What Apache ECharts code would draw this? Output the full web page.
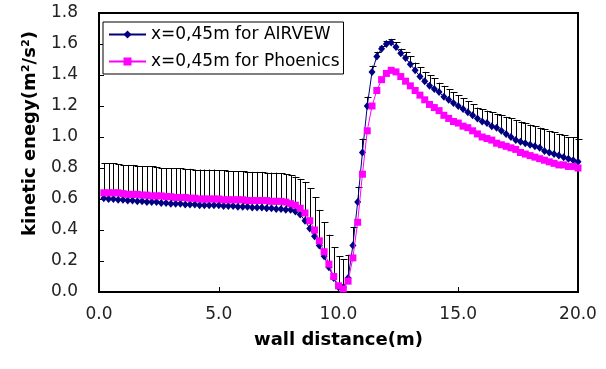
<!DOCTYPE html>
<html>
<head>
<meta charset="utf-8">
<script src="https://cdn.jsdelivr.net/npm/echarts@6/dist/echarts.min.js"></script>
<style>html,body{margin:0;padding:0;background:#fff}#c{width:606px;height:369px}</style>
</head>
<body>
<div id="c"></div>
<script>
var xs = [0.2,0.4,0.6,0.8,1.0,1.2,1.4,1.6,1.8,2.0,
  2.2,2.4,2.6,2.8,3.0,3.2,3.4,3.6,3.8,4.0,
  4.2,4.4,4.6,4.8,5.0,5.2,5.4,5.6,5.8,6.0,
  6.2,6.4,6.6,6.8,7.0,7.2,7.4,7.6,7.8,8.0,
  8.2,8.4,8.6,8.8,9.0,9.2,9.4,9.6,9.8,10.0,
  10.2,10.4,10.6,10.8,11.0,11.2,11.4,11.6,11.8,12.0,
  12.2,12.4,12.6,12.8,13.0,13.2,13.4,13.6,13.8,14.0,
  14.2,14.4,14.6,14.8,15.0,15.2,15.4,15.6,15.8,16.0,
  16.2,16.4,16.6,16.8,17.0,17.2,17.4,17.6,17.8,18.0,
  18.2,18.4,18.6,18.8,19.0,19.2,19.4,19.6,19.8,20.0];
var airvew = [0.605,0.60,0.60,0.595,0.595,0.59,0.59,0.585,0.585,0.58,
  0.58,0.58,0.575,0.575,0.57,0.57,0.57,0.565,0.565,0.565,
  0.56,0.56,0.56,0.56,0.56,0.555,0.555,0.555,0.55,0.55,
  0.55,0.545,0.545,0.545,0.54,0.54,0.535,0.535,0.53,0.53,
  0.52,0.50,0.46,0.41,0.36,0.30,0.23,0.16,0.09,0.03,
  0.03,0.09,0.30,0.58,0.90,1.20,1.42,1.52,1.57,1.60,
  1.61,1.58,1.54,1.51,1.47,1.43,1.39,1.36,1.33,1.31,
  1.29,1.26,1.24,1.22,1.20,1.18,1.16,1.14,1.12,1.10,
  1.09,1.07,1.06,1.04,1.02,1.00,0.98,0.97,0.96,0.95,
  0.94,0.93,0.91,0.90,0.89,0.88,0.87,0.86,0.85,0.84];
var airvewUpper = [0.83,0.83,0.83,0.825,0.82,0.82,0.82,0.815,0.81,0.81,
  0.81,0.805,0.80,0.80,0.80,0.80,0.80,0.795,0.795,0.79,
  0.79,0.79,0.79,0.79,0.785,0.785,0.78,0.78,0.78,0.78,
  0.775,0.775,0.775,0.775,0.77,0.77,0.77,0.765,0.76,0.755,
  0.745,0.73,0.71,0.67,0.61,0.53,0.45,0.37,0.29,0.23,
  0.21,0.24,0.42,0.68,0.99,1.26,1.46,1.55,1.59,1.62,
  1.63,1.61,1.57,1.55,1.52,1.48,1.45,1.42,1.40,1.38,
  1.35,1.33,1.31,1.29,1.27,1.25,1.23,1.21,1.19,1.18,
  1.17,1.16,1.15,1.14,1.13,1.12,1.11,1.10,1.09,1.08,
  1.07,1.06,1.05,1.04,1.03,1.02,1.01,1.00,1.00,0.99];
var phoenics = [0.64,0.64,0.64,0.64,0.635,0.63,0.63,0.63,0.625,0.625,
  0.62,0.62,0.62,0.615,0.615,0.61,0.61,0.61,0.605,0.605,
  0.60,0.60,0.60,0.60,0.60,0.595,0.595,0.595,0.595,0.595,
  0.59,0.59,0.59,0.59,0.59,0.585,0.585,0.585,0.58,0.57,
  0.56,0.54,0.51,0.46,0.40,0.33,0.26,0.18,0.10,0.04,
  0.02,0.07,0.22,0.45,0.76,1.04,1.20,1.30,1.37,1.41,
  1.43,1.42,1.39,1.36,1.33,1.30,1.27,1.24,1.21,1.19,
  1.17,1.14,1.12,1.10,1.09,1.07,1.06,1.04,1.02,1.00,
  0.99,0.98,0.96,0.95,0.94,0.93,0.92,0.90,0.89,0.88,
  0.87,0.86,0.85,0.84,0.83,0.82,0.82,0.81,0.81,0.80];
var seriesNames = ['x=0,45m for AIRVEW', 'x=0,45m for Phoenics'];
var xTitle = 'wall distance(m)';
var yTitle = 'kinetic enegy(m\u00B2/s\u00B2)';

var chart = echarts.init(document.getElementById('c'), null, {renderer: 'canvas'});
var pts = function (ys) { return xs.map(function (x, i) { return [x, ys[i]]; }); };
var errData = xs.map(function (x, i) { return [x, airvew[i], airvewUpper[i]]; });
var font = 'DejaVu Sans';
chart.setOption({
  animation: false,
  backgroundColor: '#fff',
  grid: {left: 99, right: 28, top: 13, bottom: 77, show: true, borderColor: '#000', borderWidth: 2},
  legend: {
    orient: 'vertical', left: 103, top: 22, padding: [4, 4, 4, 5],
    backgroundColor: '#fff', borderColor: '#000', borderWidth: 1,
    itemWidth: 37, itemHeight: 10, itemGap: 10,
    textStyle: {fontFamily: font, fontSize: 17, color: '#000'},
    data: seriesNames
  },
  xAxis: {
    type: 'value', min: 0, max: 20, interval: 5,
    axisLine: {lineStyle: {color: '#000', width: 2}},
    axisTick: {inside: true, length: 5, lineStyle: {color: '#000', width: 1}},
    splitLine: {show: false},
    axisLabel: {margin: 14, fontFamily: font, fontSize: 17, color: '#222', formatter: function (v) { return v.toFixed(1); }},
    name: xTitle, nameLocation: 'middle', nameGap: 39,
    nameTextStyle: {fontFamily: font, fontSize: 18, fontWeight: 'bold', color: '#000'}
  },
  yAxis: {
    type: 'value', min: 0, max: 1.8, interval: 0.2,
    axisLine: {lineStyle: {color: '#000', width: 2}},
    axisTick: {inside: true, length: 5, lineStyle: {color: '#000', width: 1}},
    splitLine: {show: false},
    axisLabel: {margin: 21, fontFamily: font, fontSize: 17, color: '#222', formatter: function (v) { return v.toFixed(1); }},
    name: yTitle, nameLocation: 'middle', nameGap: 60,
    nameTextStyle: {fontFamily: font, fontSize: 18, fontWeight: 'bold', color: '#000', padding: [0, 0, 0, 38]}
  },
  series: [
    {
      type: 'custom', name: 'err', silent: true, z: 1,
      data: errData,
      renderItem: function (params, api) {
        var p0 = api.coord([api.value(0), api.value(1)]);
        var p1 = api.coord([api.value(0), api.value(2)]);
        var x = Math.round(p0[0]) + 0.5;
        return {type: 'group', children: [
          {type: 'line', shape: {x1: x, y1: p0[1], x2: x, y2: p1[1]}, style: {stroke: '#000', lineWidth: 1}},
          {type: 'line', shape: {x1: x - 3, y1: Math.round(p1[1]) + 0.5, x2: x + 4, y2: Math.round(p1[1]) + 0.5}, style: {stroke: '#000', lineWidth: 1}}
        ]};
      }
    },
    {
      type: 'line', name: seriesNames[0], z: 2,
      data: pts(airvew),
      symbol: 'diamond', symbolSize: [7, 8], showAllSymbol: true,
      itemStyle: {color: '#000080'},
      lineStyle: {color: '#000080', width: 1}
    },
    {
      type: 'line', name: seriesNames[1], z: 3,
      data: pts(phoenics),
      symbol: 'rect', symbolSize: 7, showAllSymbol: true,
      itemStyle: {color: '#ff00ff'},
      lineStyle: {color: '#ff00ff', width: 1}
    }
  ]
});
</script>
</body>
</html>
